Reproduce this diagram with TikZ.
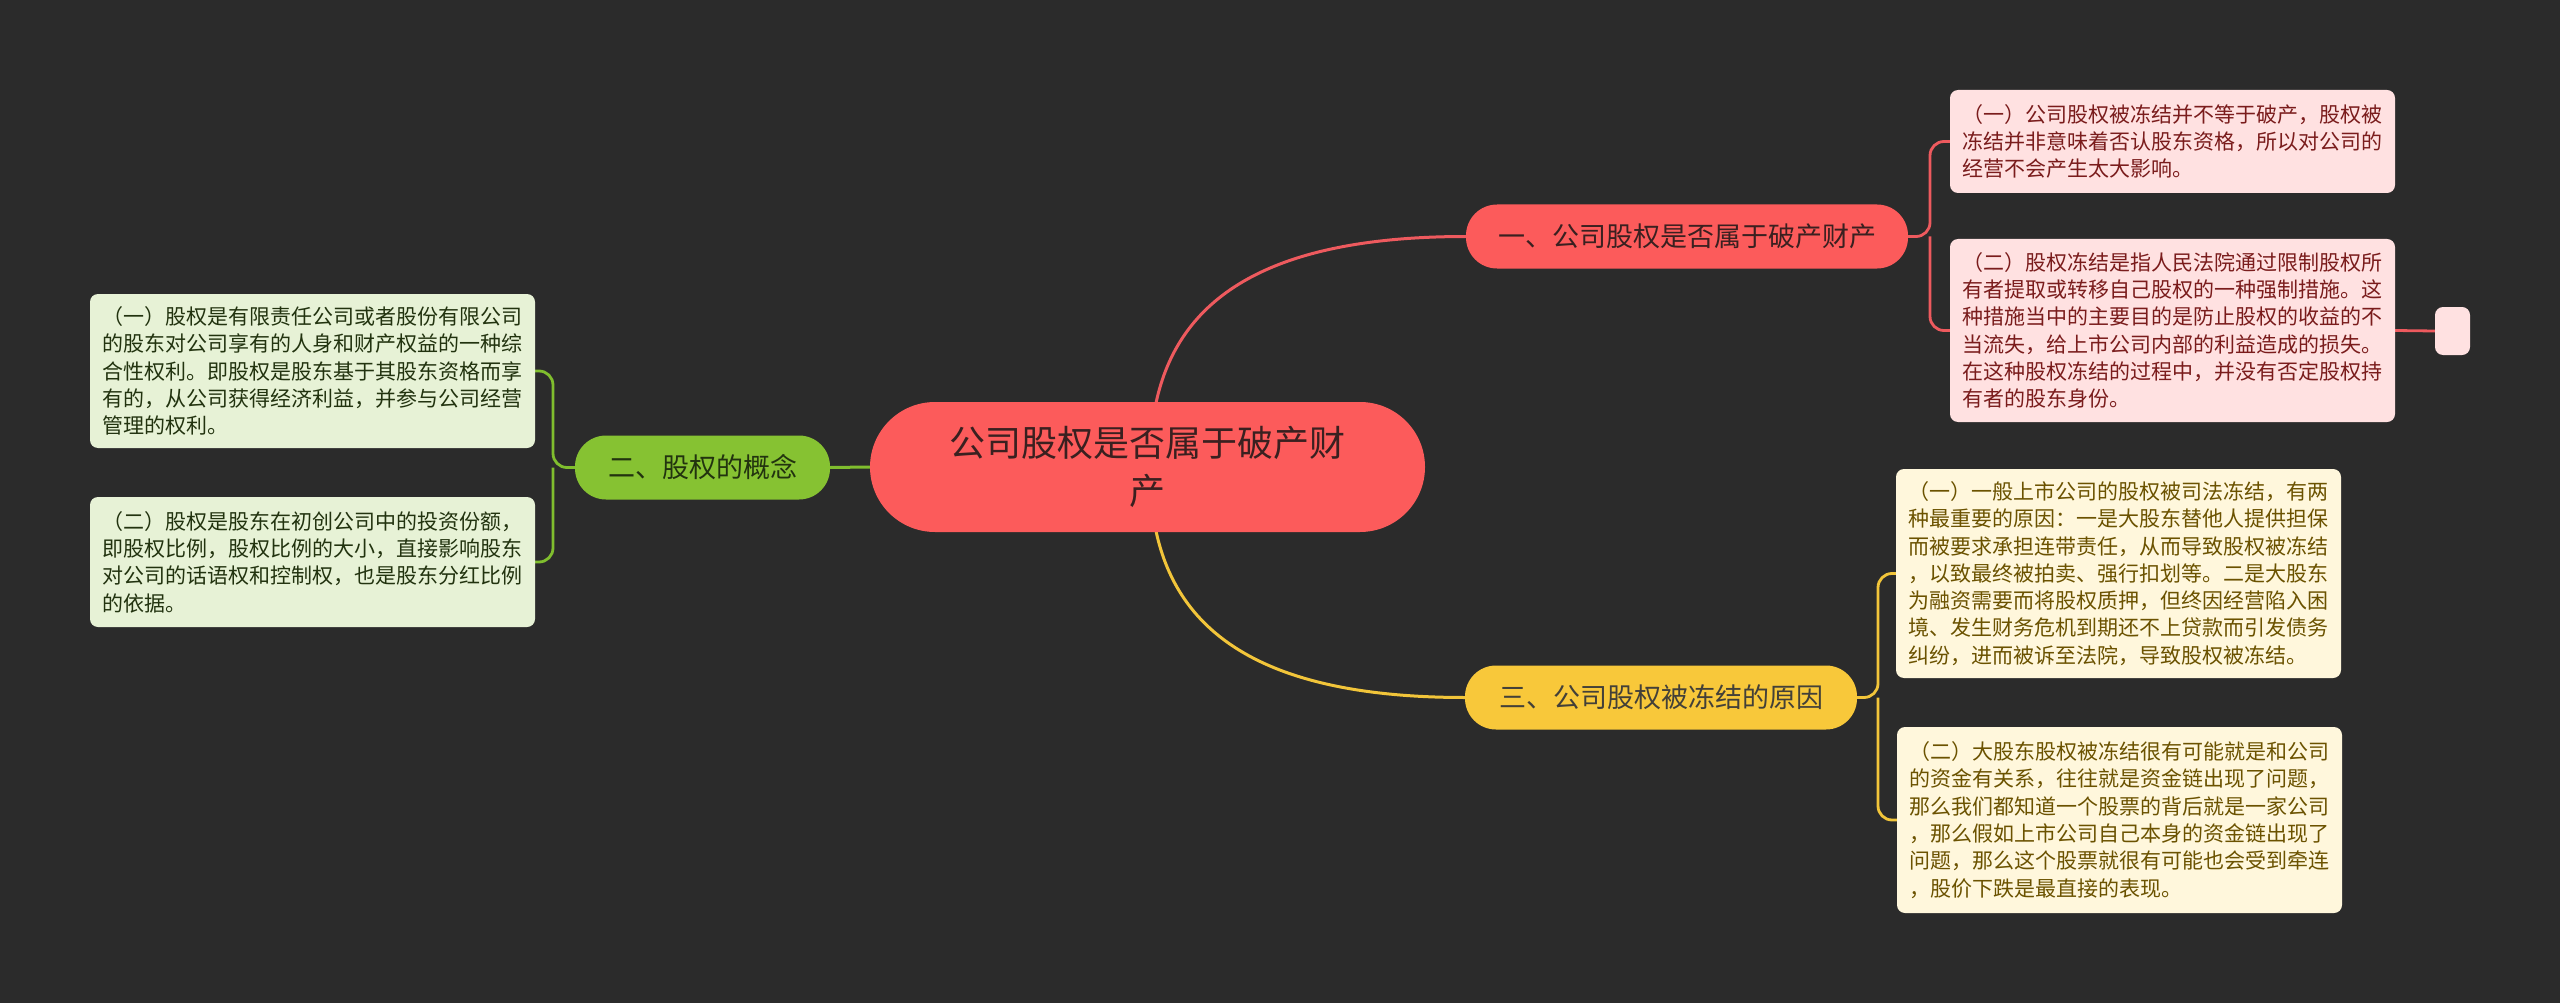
\documentclass[tikz,border=0pt]{standalone}
\usepackage{fontspec}
\setmainfont{Noto Sans CJK SC}
\definecolor{bg}{HTML}{2B2B2B}
\definecolor{redF}{HTML}{FC5B5B}
\definecolor{redL}{HTML}{EE5A5E}
\definecolor{pinkF}{HTML}{FFE1E1}
\definecolor{pinkT}{HTML}{7A1C1C}
\definecolor{yelF}{HTML}{F8C83A}
\definecolor{yelL}{HTML}{F2C53A}
\definecolor{creamF}{HTML}{FFF7DC}
\definecolor{creamT}{HTML}{6B5200}
\definecolor{grnF}{HTML}{86C232}
\definecolor{grnL}{HTML}{80BE2E}
\definecolor{grnLF}{HTML}{E7F2D6}
\definecolor{grnT}{HTML}{22330F}
\definecolor{darkT}{HTML}{3A2020}
\pgfdeclarelayer{bgl}
\pgfdeclarelayer{lines}
\pgfsetlayers{bgl,lines,main}
\begin{document}
\begin{tikzpicture}[x=1pt,y=-1pt,
  leaf/.style={rounded corners=8pt, align=left, text width=420pt, inner xsep=12.5pt, inner ysep=0pt,
     font=\fontsize{21}{27.3}\selectfont},
  pinkleaf/.style={leaf, fill=pinkF, text=pinkT},
  creamleaf/.style={leaf, fill=creamF, text=creamT},
  greenleaf/.style={leaf, fill=grnLF, text=grnT},
  branchbox/.style={rounded corners=31pt, inner sep=0pt, font=\fontsize{27}{32}\selectfont, minimum height=64pt},
  mainline/.style={line width=3pt},
  brk/.style={line width=2.8pt, rounded corners=14pt}
]
\useasboundingbox (0,0) rectangle (2560,1003);
\begin{pgfonlayer}{bgl}
\fill[bg] (0,0) rectangle (2560,1003);
\end{pgfonlayer}

% central
\node[fill=redF, rounded corners=65pt, minimum width=555pt, minimum height=130pt, inner sep=0pt,
  align=center, text=darkT, font=\fontsize{36}{48}\selectfont] (c) at (1147.5,467) {公司股权是否属于破产财\\产};

% branches
\node[branchbox, fill=redF, text=darkT, minimum width=442pt] (b1) at (1687,236.5) {一、公司股权是否属于破产财产};
\node[branchbox, fill=grnF, text=grnT, minimum width=255pt] (b2) at (702.5,467.5) {二、股权的概念};
\node[branchbox, fill=yelF, text=black!85!yellow, minimum width=392pt] (b3) at (1661,697.5) {三、公司股权被冻结的原因};

% leaves
\node[pinkleaf, minimum height=103pt] (r1) at (2172.5,141.5) {（一）公司股权被冻结并不等于破产，股权被\\冻结并非意味着否认股东资格，所以对公司的\\经营不会产生太大影响。};
\node[pinkleaf, minimum height=183pt] (r2) at (2172.5,330.5) {（二）股权冻结是指人民法院通过限制股权所\\有者提取或转移自己股权的一种强制措施。这\\种措施当中的主要目的是防止股权的收益的不\\当流失，给上市公司内部的利益造成的损失。\\在这种股权冻结的过程中，并没有否定股权持\\有者的股东身份。};
\node[fill=pinkF, rounded corners=8pt, minimum width=35pt, minimum height=48pt, inner sep=0pt] (r3) at (2452.5,331) {};

\node[creamleaf, minimum height=209pt] (y1) at (2118.5,573.5) {（一）一般上市公司的股权被司法冻结，有两\\种最重要的原因：一是大股东替他人提供担保\\而被要求承担连带责任，从而导致股权被冻结\\，以致最终被拍卖、强行扣划等。二是大股东\\为融资需要而将股权质押，但终因经营陷入困\\境、发生财务危机到期还不上贷款而引发债务\\纠纷，进而被诉至法院，导致股权被冻结。};
\node[creamleaf, minimum height=186pt] (y2) at (2119.5,820) {（二）大股东股权被冻结很有可能就是和公司\\的资金有关系，往往就是资金链出现了问题，\\那么我们都知道一个股票的背后就是一家公司\\，那么假如上市公司自己本身的资金链出现了\\问题，那么这个股票就很有可能也会受到牵连\\，股价下跌是最直接的表现。};

\node[greenleaf, minimum height=154pt] (g1) at (312.5,371) {（一）股权是有限责任公司或者股份有限公司\\的股东对公司享有的人身和财产权益的一种综\\合性权利。即股权是股东基于其股东资格而享\\有的，从公司获得经济利益，并参与公司经营\\管理的权利。};
\node[greenleaf, minimum height=130pt] (g2) at (312.5,562) {（二）股权是股东在初创公司中的投资份额，\\即股权比例，股权比例的大小，直接影响股东\\对公司的话语权和控制权，也是股东分红比例\\的依据。};

% split points
\coordinate (s1) at (1930,236.5);
\coordinate (s2) at (553,467.5);
\coordinate (s3) at (1878,697.5);
\coordinate (ct) at (1156,403);
\coordinate (cb) at (1156,531);

\begin{pgfonlayer}{lines}
% main connectors
\draw[mainline, redL] (ct) .. controls (1178,300) and (1265,236.5) .. (b1.west);
\draw[mainline, yelL] (cb) .. controls (1178,634) and (1265,697.5) .. (b3.west);
\draw[mainline, grnL] (c.west) -- (b2.east);

% brackets
\draw[brk, redL] (b1.east) -- (s1) |- (r1.west);
\draw[brk, redL] (s1) |- (r2.west);
\draw[line width=2.8pt, redL] (r2.east) -- (r3.west);

\draw[brk, grnL] (b2.west) -- (s2) |- (g1.east);
\draw[brk, grnL] (s2) |- (g2.east);

\draw[brk, yelL] (b3.east) -- (s3) |- (y1.west);
\draw[brk, yelL] (s3) |- (y2.west);
\end{pgfonlayer}
\end{tikzpicture}
\end{document}
